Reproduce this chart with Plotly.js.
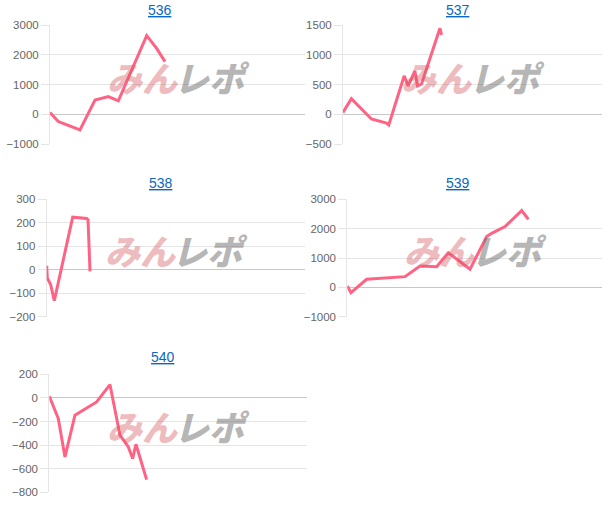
<!DOCTYPE html>
<html>
<head>
<meta charset="utf-8">
<script src="https://cdn.plot.ly/plotly-3.0.1.min.js"></script>
<style>html,body{margin:0;padding:0;background:#fff;}#chart{width:615px;height:518px;}</style>
</head>
<body>
<div id="chart"></div>
<script>
// Panel titles (machine numbers)
const titles = ["536", "537", "538", "539", "540"];

// Series: x = games (hidden axis), y = difference
const x536 = [0, 157, 261, 471, 941, 1412, 1830, 2144, 3033, 3346, 3608];
const y536 = [55, -135, -245, -335, -525, 480, 595, 450, 2645, 2215, 1770];

const x537 = [0, 258, 877, 1342, 1414, 1889, 2013, 2219, 2302, 2426, 2994, 3045];
const y537 = [30, 260, -80, -150, -180, 645, 475, 730, 475, 510, 1445, 1335];

const x538 = [0, 19, 124, 235, 805, 1239, 1280, 1341];
const y538 = [17, -35, -64, -132, 224, 218, 212, -7];

const x539 = [0, 115, 608, 1342, 1814, 2286, 2810, 3177, 3858, 4383, 4540, 4959, 5484, 5693];
const y539 = [45, -180, 275, 340, 365, 730, 705, 1180, 615, 1730, 1840, 2070, 2615, 2320];

const x540 = [0, 279, 486, 796, 1468, 1881, 2191, 2450, 2584, 2687, 3018];
const y540 = [14, -175, -500, -147, -34, 113, -316, -415, -514, -393, -692];

// y-axis ranges and tick steps
const yRanges = [[-1000, 3000], [-500, 1500], [-200, 300], [-1000, 3000], [-800, 200]];
const yDticks = [1000, 500, 100, 1000, 200];
const xMax = 8000;

const xsAll = [x536, x537, x538, x539, x540];
const ysAll = [y536, y537, y538, y539, y540];

// Pixel boxes of each plot area [left, right, top, bottom]
const W = 615, H = 518;
const boxes = [
  [50, 305, 25, 144],
  [343, 602, 25, 144],
  [46.7, 305, 199.3, 316.7],
  [347.3, 601.7, 199.3, 316.7],
  [49.3, 307.3, 374.3, 492.3]
];
const titlePos = [[160, 10], [458, 10], [161, 183], [458, 183], [163, 357]];

const lineColor = "rgb(255,99,132)";
const gridColor = "rgba(0,0,0,0.1)";
const font = "Liberation Sans, Arial, Helvetica, sans-serif";

const data = [];
const layout = {
  width: W, height: H,
  margin: {l: 0, r: 0, t: 0, b: 0},
  paper_bgcolor: "#fff", plot_bgcolor: "#fff",
  showlegend: false,
  font: {family: font, color: "#666", size: 11},
  annotations: []
};

for (let i = 0; i < 5; i++) {
  const n = i === 0 ? "" : String(i + 1);
  const b = boxes[i];
  data.push({
    x: xsAll[i], y: ysAll[i],
    xaxis: "x" + n, yaxis: "y" + n,
    type: "scatter", mode: "lines",
    line: {color: lineColor, width: 3},
    hoverinfo: "x+y"
  });
  layout["xaxis" + n] = {
    domain: [b[0] / W, b[1] / W],
    range: [0, xMax],
    showgrid: false, zeroline: false, showticklabels: false, ticks: "",
    showline: false, fixedrange: true, anchor: "y" + n
  };
  layout["yaxis" + n] = {
    domain: [1 - b[3] / H, 1 - b[2] / H],
    range: yRanges[i], dtick: yDticks[i], tick0: 0,
    showgrid: true, gridcolor: gridColor, gridwidth: 1,
    zeroline: true, zerolinecolor: "rgba(0,0,0,0.22)", zerolinewidth: 1,
    showline: true, linecolor: gridColor, linewidth: 1,
    ticks: "outside", ticklen: 8, tickcolor: gridColor,
    tickfont: {family: font, size: 11.5, color: "#666"},
    fixedrange: true, anchor: "x" + n
  };
  // Panel title (link style)
  layout.annotations.push({
    xref: "paper", yref: "paper",
    x: titlePos[i][0] / W, y: 1 - titlePos[i][1] / H,
    xanchor: "center", yanchor: "middle",
    text: '<span style="text-decoration:underline">' + titles[i] + '</span>',
    showarrow: false,
    font: {family: font, size: 14, color: "#0b67c6"}
  });
  // Watermark logo text
  const cx = (b[0] + b[1]) / 2;
  const cy = (b[2] + b[3]) / 2 - 8;
  layout.annotations.push({
    xref: "paper", yref: "paper",
    x: (cx + 2) / W, y: 1 - cy / H,
    xanchor: "right", yanchor: "middle",
    text: "みん", showarrow: false,
    font: {family: "Noto Sans CJK JP", size: 35, weight: 900, style: "italic", color: "rgba(214,90,95,0.42)"}
  });
  layout.annotations.push({
    xref: "paper", yref: "paper",
    x: (cx - 6) / W, y: 1 - cy / H,
    xanchor: "left", yanchor: "middle",
    text: "レポ", showarrow: false,
    font: {family: "Noto Sans CJK JP", size: 35, weight: 900, style: "italic", color: "rgba(110,110,110,0.5)"}
  });
}

Plotly.newPlot("chart", data, layout, {displayModeBar: false, staticPlot: true});
</script>
</body>
</html>
